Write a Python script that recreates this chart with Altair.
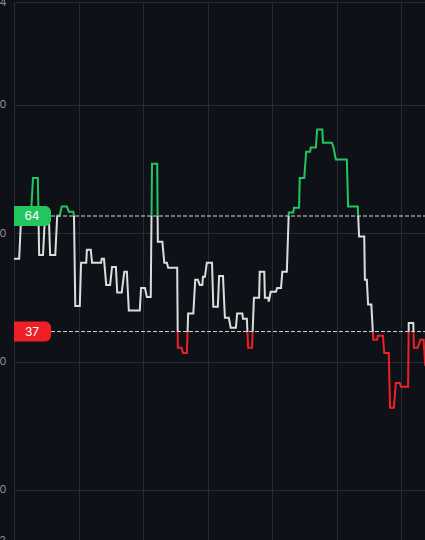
import altair as alt
import pandas as pd

# time index (grid every 10 units) and indicator values
t = [0.0, 0.8, 1.1, 2.6, 2.95, 3.7, 3.9, 4.5, 4.8, 5.4, 5.6, 6.4, 6.7, 7.1, 7.4, 8.2,
     8.5, 9.2, 9.3, 9.5, 10.2, 10.4, 11.2, 11.3, 11.9, 12.1, 13.5, 13.6, 13.95, 14.3,
     14.9, 15.2, 15.8, 16.0, 16.7, 17.1, 17.5, 17.8, 19.5, 19.7, 20.3, 20.6, 21.2,
     21.4, 22.2, 22.3, 23.0, 23.3, 23.7, 23.9, 25.3, 25.4, 26.0, 26.2, 26.8, 27.0,
     27.8, 28.1, 28.5, 28.8, 29.2, 29.3, 29.6, 29.9, 30.7, 30.9, 31.6, 31.8, 32.4,
     32.7, 33.3, 33.6, 34.4, 34.6, 35.4, 35.5, 36.1, 36.3, 36.9, 37.2, 38.0, 38.1,
     38.8, 38.9, 39.4, 39.5, 39.8, 40.6, 40.8, 41.4, 41.6, 42.3, 42.6, 43.3, 43.4,
     44.2, 44.3, 45.0, 45.3, 45.9, 46.0, 46.8, 47.0, 47.8, 47.9, 49.3, 49.5, 49.9,
     51.6, 51.8, 53.3, 53.5, 54.3, 54.4, 54.7, 54.9, 55.4, 55.7, 56.3, 56.4, 57.2,
     57.4, 58.1, 58.3, 58.9, 59.2, 59.8, 60.0, 61.1, 61.2, 61.9, 62.0, 62.6, 63.0,
     63.5, 63.75, 65.0]
v = [54.0, 54.0, 63.5, 63.5, 72.9, 72.9, 54.9, 54.9, 64.1, 64.1, 54.9, 54.9, 64.1, 64.1, 66.2, 66.2,
     65.0, 65.0, 64.1, 43.0, 43.0, 53.1, 53.1, 56.1, 56.1, 53.1, 53.1, 54.0, 54.0, 47.9,
     47.9, 52.1, 52.1, 46.1, 46.1, 51.0, 51.0, 41.9, 41.9, 47.2, 47.2, 45.1, 45.1,
     76.2, 76.2, 58.0, 58.0, 53.1, 53.1, 51.9, 51.9, 33.2, 33.2, 32.0, 32.0, 41.2,
     41.2, 49.1, 49.1, 47.9, 47.9, 49.8, 49.8, 53.1, 53.1, 42.8, 42.8, 50.0, 50.0,
     40.2, 40.2, 37.9, 37.9, 41.2, 41.2, 40.0, 40.0, 33.2, 33.2, 44.9, 44.9, 51.0,
     51.0, 44.9, 44.9, 44.0, 46.3, 46.3, 47.2, 47.2, 51.0, 51.0, 64.8, 64.8, 65.9,
     65.9, 72.9, 72.9, 79.0, 79.0, 80.0, 80.0, 84.2, 84.2, 81.1, 81.1, 80.2, 77.2,
     77.2, 66.2, 66.2, 59.2, 59.2, 49.1, 49.1, 43.3, 43.3, 35.1, 35.1, 36.0, 36.0,
     32.0, 32.0, 19.2, 19.2, 25.0, 25.0, 24.1, 24.1, 39.0, 39.0, 33.2, 33.2, 35.1,
     35.1, 29.2, 29.2]

thresholds = [64, 37]
threshold_labels = ["64", "37"]
y_ticks = [0, 30, 60, 90, 114]
y_edge_tick = [-12]
x_ticks = [0, 10, 20, 30, 40, 50, 60]

BG = "#0e1117"
GRID = "#272b33"
GREEN = "#22c55e"
RED = "#ee1f26"
WHITE = "#dcdcdc"
LABEL = "#8b8f97"

W, H = 411, 538

df = pd.DataFrame({"t": t, "v": v})
thr = pd.DataFrame({"v": thresholds, "label": threshold_labels, "c": [GREEN, RED]})
edge = pd.DataFrame({"v": y_edge_tick, "label": [str(x) for x in y_edge_tick]})

vmax, vmin = max(v), min(v)
span = vmax - vmin
t_hi = (vmax - thresholds[0]) / span
t_lo = (vmax - thresholds[1]) / span

grad = alt.Gradient(
    gradient="linear", x1=0, x2=0, y1=0, y2=1,
    stops=[
        alt.GradientStop(offset=0, color=GREEN),
        alt.GradientStop(offset=t_hi, color=GREEN),
        alt.GradientStop(offset=t_hi, color=WHITE),
        alt.GradientStop(offset=t_lo, color=WHITE),
        alt.GradientStop(offset=t_lo, color=RED),
        alt.GradientStop(offset=1, color=RED),
    ],
)

x_scale = alt.Scale(domain=[0, 63.72], nice=False, zero=False)
y_scale = alt.Scale(domain=[-11.7, 114], nice=False, zero=False)

line = alt.Chart(df).mark_line(color=grad, strokeWidth=2, clip=True).encode(
    x=alt.X("t:Q", scale=x_scale,
            axis=alt.Axis(values=x_ticks, labels=False, ticks=False, domain=False,
                          grid=True, title=None)),
    y=alt.Y("v:Q", scale=y_scale,
            axis=alt.Axis(values=y_ticks, ticks=False, tickSize=0, domain=False, grid=True,
                          labelPadding=8, title=None)),
)

edge_label = alt.Chart(edge).mark_text(
    color=LABEL, fontSize=11, font="Inter", align="right", baseline="middle"
).encode(
    y=alt.Y("v:Q", scale=y_scale),
    x=alt.value(-8),
    text="label:N",
)

rules = alt.Chart(thr).mark_rule(strokeDash=[4, 2], color="#d6d6d6", strokeWidth=1).encode(
    y=alt.Y("v:Q", scale=y_scale),
    x=alt.value(37),
    x2=alt.value(W),
)

boxes = alt.Chart(thr).mark_rect(
    yOffset=-10, y2Offset=10, cornerRadiusTopRight=6, cornerRadiusBottomRight=6
).encode(
    y=alt.Y("v:Q", scale=y_scale),
    y2=alt.Y2("v"),
    x=alt.value(0),
    x2=alt.value(37),
    color=alt.Color("c:N", scale=None),
)

texts = alt.Chart(thr).mark_text(
    color="white", fontSize=12, font="Inter", align="center", baseline="middle"
).encode(
    y=alt.Y("v:Q", scale=y_scale),
    x=alt.value(18),
    text="label:N",
)

chart = alt.layer(line, edge_label, rules, boxes, texts).properties(
    width=W, height=H,
    autosize=alt.AutoSizeParams(type="none"),
    padding={"left": 14, "top": 2, "right": 0, "bottom": 0},
).configure(background=BG).configure_view(
    strokeWidth=0
).configure_axis(
    gridColor=GRID, gridWidth=1, labelColor=LABEL, labelFontSize=11, labelFont="Inter"
)

chart.save("out.html", embed_options={
    "renderer": "svg", "actions": False,
    "defaultStyle": "html,body{margin:0;padding:0;overflow:hidden;background:#0e1117;}",
})
